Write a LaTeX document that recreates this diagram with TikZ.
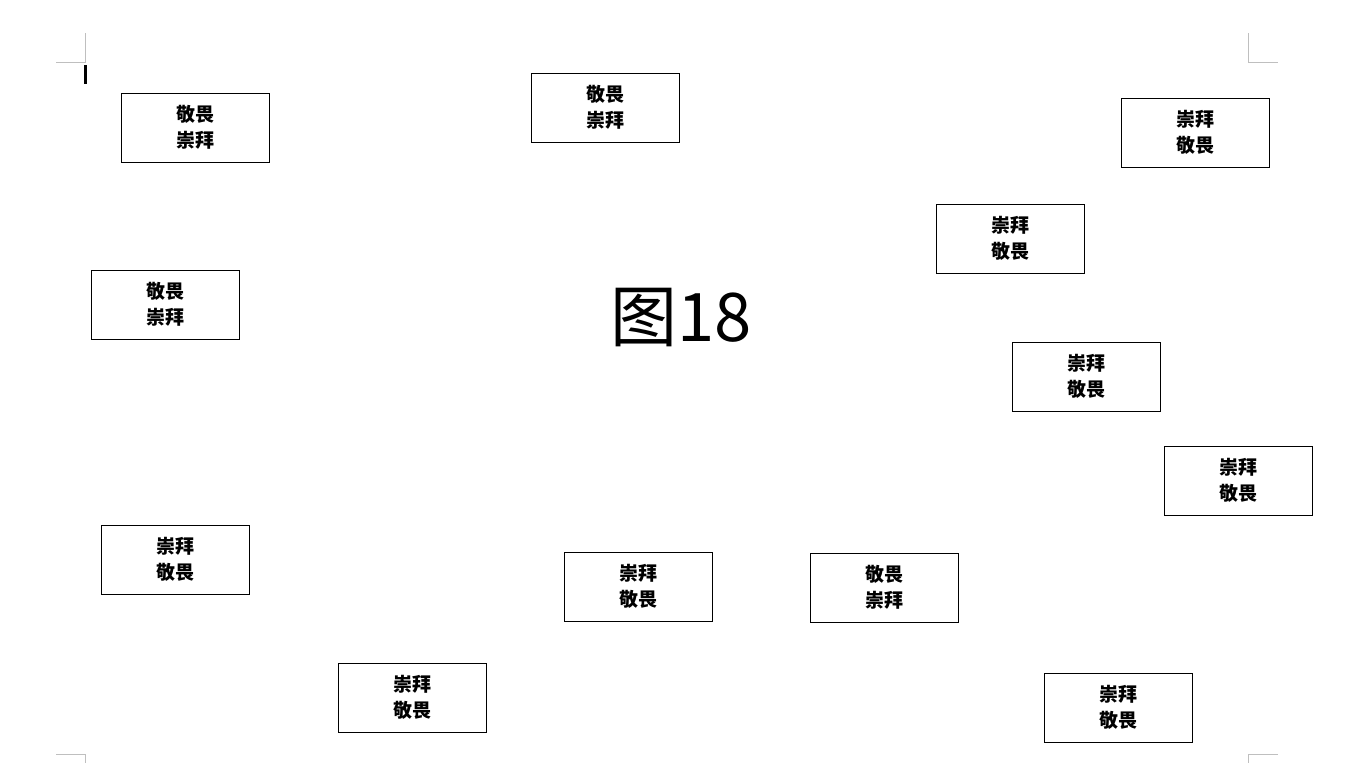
\documentclass[tikz,border=0pt]{standalone}
\usepackage{fontspec}
\newfontfamily\cjk{Noto Sans CJK SC}
\usepackage{tikz}

\tikzset{
  cardbox/.style={draw, line width=0.8pt, minimum width=148pt, minimum height=69pt,
    inner sep=0pt, align=center, font=\cjk\bfseries\fontsize{19}{26}\selectfont},
  cropmark/.style={draw=black!25, line width=0.8pt}
}

\begin{document}
\begin{tikzpicture}[x=1pt, y=-1pt]
  \useasboundingbox (0,0) rectangle (1361,763);
  % crop marks
  \draw[cropmark] (85,33) -- (85,62) -- (56,62);
  \draw[cropmark] (1248,33) -- (1248,62) -- (1278,62);
  \draw[cropmark] (56,754) -- (85,754) -- (85,763);
  \draw[cropmark] (1278,754) -- (1248,754) -- (1248,763);
  % cursor
  \draw[line width=2.2pt] (85.5,65) -- (85.5,84);
  % title
  \node (title) at (681,318) {\cjk\fontsize{67}{75}\selectfont 图18};
  % boxes
  \node[cardbox] (b1) at (195,127.5) {敬畏\\崇拜};
  \node[cardbox] (b2) at (605,107.5) {敬畏\\崇拜};
  \node[cardbox] (b3) at (1195,132.5) {崇拜\\敬畏};
  \node[cardbox] (b4) at (1010,238.5) {崇拜\\敬畏};
  \node[cardbox] (b5) at (165,304.5) {敬畏\\崇拜};
  \node[cardbox] (b6) at (1086,376.5) {崇拜\\敬畏};
  \node[cardbox] (b7) at (1238,480.5) {崇拜\\敬畏};
  \node[cardbox] (b8) at (175,559.5) {崇拜\\敬畏};
  \node[cardbox] (b9) at (638,586.5) {崇拜\\敬畏};
  \node[cardbox] (b10) at (884,587.5) {敬畏\\崇拜};
  \node[cardbox] (b11) at (412,697.5) {崇拜\\敬畏};
  \node[cardbox] (b12) at (1118,707.5) {崇拜\\敬畏};
\end{tikzpicture}
\end{document}
